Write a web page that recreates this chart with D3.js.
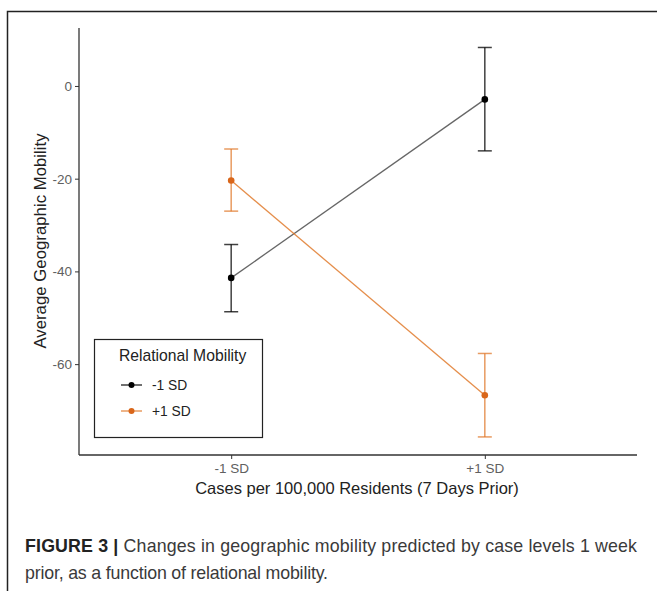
<!DOCTYPE html>
<html>
<head>
<meta charset="utf-8">
<script src="https://d3js.org/d3.v7.min.js"></script>
<style>
  body { margin: 0; background: #fff; }
  svg text { font-family: "Liberation Sans", Arial, sans-serif; }
</style>
</head>
<body>
<svg width="657" height="591"></svg>
<script>
// data
const caseLevels = ["-1 SD", "+1 SD"];
const groups = ["-1 SD", "+1 SD"];
const groupColors = ["#000000", "#e07a2c"];
const lowMean = [-41.4, -2.9];
const lowUpper = [-34.2, 8.3];
const lowLower = [-48.7, -14.0];
const highMean = [-20.4, -66.7];
const highUpper = [-13.6, -57.7];
const highLower = [-27.0, -75.7];
const yTicks = [0, -20, -40, -60];

const series = [
  { name: groups[0], color: groupColors[0], mean: lowMean, hi: lowUpper, lo: lowLower },
  { name: groups[1], color: groupColors[1], mean: highMean, hi: highUpper, lo: highLower }
];

const svg = d3.select("svg");

// outer figure frame
svg.append("path")
  .attr("d", "M7.5,591 V11.5 H657")
  .attr("fill", "none").attr("stroke", "#222").attr("stroke-width", 1.5);

const pLeft = 79, pRight = 637, pTop = 28, pBottom = 455;

const x = d3.scalePoint().domain(caseLevels).range([pLeft, pRight]).padding(0.6);
const y = d3.scaleLinear().domain([-79.6, 12.5]).range([pBottom, pTop]);

// axes
const gy = svg.append("g").attr("transform", `translate(${pLeft},0)`)
  .call(d3.axisLeft(y).tickValues(yTicks).tickSize(4).tickPadding(3).tickFormat(d => String(d)));
const gx = svg.append("g").attr("transform", `translate(0,${pBottom})`)
  .call(d3.axisBottom(x).tickSize(4).tickPadding(4));
[gy, gx].forEach(g => {
  g.select(".domain").attr("stroke", "#333").attr("stroke-width", 1.3);
  g.selectAll(".tick line").attr("stroke", "#333");
  g.selectAll(".tick text").attr("fill", "#606060").style("font-size", "13.5px");
});
gy.select(".domain").attr("d", `M0,${pTop}V${pBottom}`);
gx.select(".domain").attr("d", `M${pLeft},0H${pRight}`);

// axis titles
svg.append("text")
  .attr("transform", `translate(46,241) rotate(-90)`)
  .attr("text-anchor", "middle").style("font-size", "16.8px").attr("fill", "#222")
  .text("Average Geographic Mobility");
svg.append("text")
  .attr("x", 357).attr("y", 494)
  .attr("text-anchor", "middle").style("font-size", "16.5px").attr("fill", "#222")
  .text("Cases per 100,000 Residents (7 Days Prior)");

// lines, error bars, points
const line = d3.line().x(d => x(d[0])).y(d => y(d[1]));
series.forEach(s => {
  const g = svg.append("g");
  g.append("path")
    .datum(caseLevels.map((c, i) => [c, s.mean[i]]))
    .attr("d", line).attr("fill", "none")
    .attr("stroke", s.color).attr("stroke-opacity", s.color === "#000000" ? 0.6 : 0.85)
    .attr("stroke-width", 1.3);
  caseLevels.forEach((c, i) => {
    const cx = x(c);
    g.append("line").attr("x1", cx).attr("x2", cx)
      .attr("y1", y(s.hi[i])).attr("y2", y(s.lo[i]))
      .attr("stroke", s.color).attr("stroke-opacity", 0.75).attr("stroke-width", 1.5);
    [s.hi[i], s.lo[i]].forEach(v => {
      g.append("line").attr("x1", cx - 7).attr("x2", cx + 7)
        .attr("y1", y(v)).attr("y2", y(v))
        .attr("stroke", s.color).attr("stroke-opacity", 0.75).attr("stroke-width", 1.5);
    });
    g.append("circle").attr("cx", cx).attr("cy", y(s.mean[i])).attr("r", 3.3)
      .attr("fill", s.color === "#000000" ? "#000" : "#d9661a");
  });
});

// legend
const lg = svg.append("g");
lg.append("rect").attr("x", 94.5).attr("y", 339.5).attr("width", 168).attr("height", 98)
  .attr("fill", "#fff").attr("stroke", "#222").attr("stroke-width", 1.2);
lg.append("text").attr("x", 119).attr("y", 361).style("font-size", "15.7px").attr("fill", "#222")
  .text("Relational Mobility");
series.forEach((s, i) => {
  const ly = 385 + i * 26;
  lg.append("line").attr("x1", 121).attr("x2", 142).attr("y1", ly).attr("y2", ly)
    .attr("stroke", s.color).attr("stroke-opacity", 0.75).attr("stroke-width", 1.5);
  lg.append("circle").attr("cx", 131.5).attr("cy", ly).attr("r", 3)
    .attr("fill", s.color === "#000000" ? "#000" : "#d9661a");
  lg.append("text").attr("x", 152).attr("y", ly + 5).style("font-size", "13.8px").attr("fill", "#222")
    .text(s.name);
});

// caption
const cap = svg.append("text").attr("x", 25).attr("y", 552)
  .attr("textLength", 612).attr("lengthAdjust", "spacing")
  .style("font-size", "17.8px").attr("fill", "#3a3a3a");
cap.append("tspan").style("font-weight", "bold").attr("fill", "#222").text("FIGURE 3 | ");
cap.append("tspan").text("Changes in geographic mobility predicted by case levels 1 week");
svg.append("text").attr("x", 25).attr("y", 579)
  .attr("textLength", 303).attr("lengthAdjust", "spacing")
  .style("font-size", "17.8px").attr("fill", "#3a3a3a")
  .text("prior, as a function of relational mobility.");
</script>
</body>
</html>
